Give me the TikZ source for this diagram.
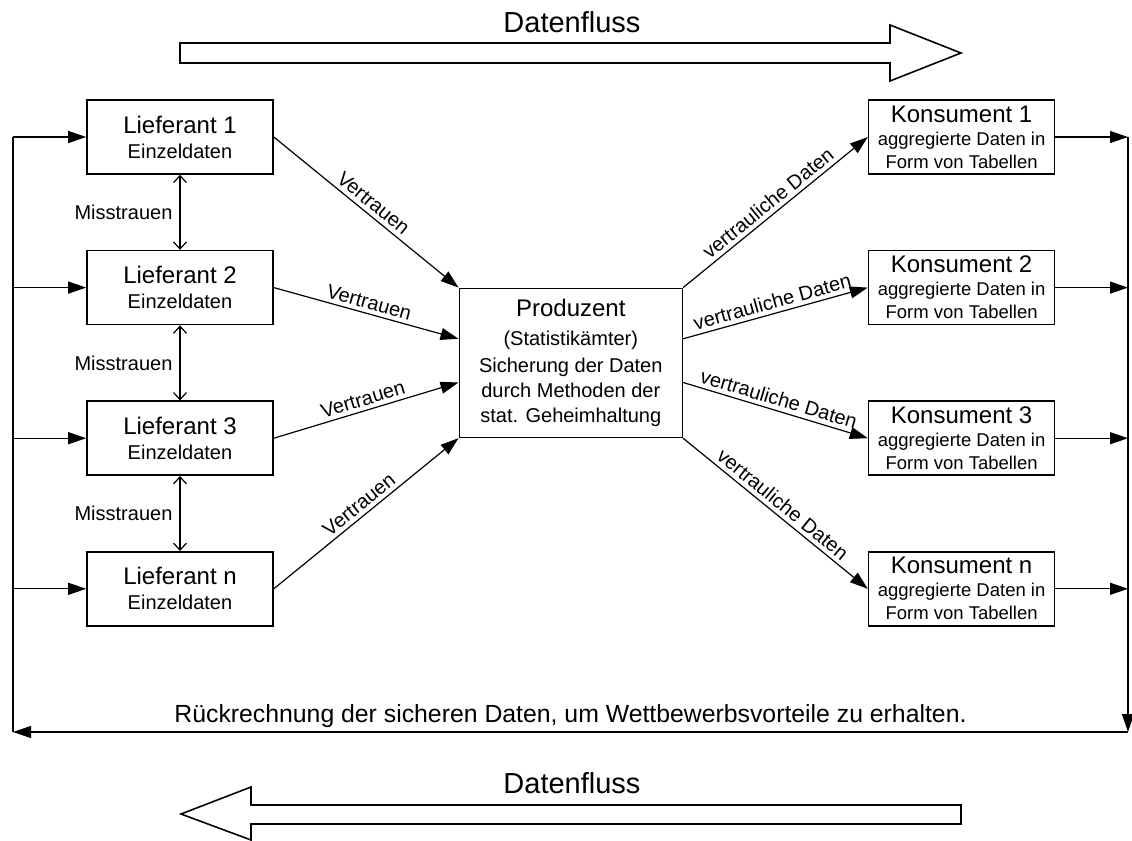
\documentclass[tikz,border=0pt]{standalone}
\usepackage{fontspec}
\setmainfont{Liberation Sans}
\usepackage{tikz}
\usetikzlibrary{arrows.meta, positioning, calc}
\newcommand{\boxtitle}[1]{{\fontsize{12}{12.5}\selectfont #1}}

\begin{document}
\begin{tikzpicture}[
  x=0.5pt, y=-0.5pt,
  node distance=37.5pt and 297pt,
  dbox/.style={rectangle, draw, line width=0.8pt, minimum width=93pt,
               minimum height=37pt, inner sep=0pt, align=center},
  lief/.style={dbox, font=\fontsize{10}{12.5}\selectfont},
  kons/.style={dbox, font=\fontsize{9.25}{11.5}\selectfont},
  prod/.style={dbox, minimum width=111.5pt, minimum height=74.5pt,
               font=\fontsize{10}{12.5}\selectfont},
  arr/.style={-{Triangle[length=9pt,width=6pt]}, line width=0.6pt},
  mis/.style={{Straight Barb[length=3.5pt,width=6.5pt]}-{Straight Barb[length=3.5pt,width=6.5pt]},
              line width=0.6pt},
  lbl/.style={midway, above, sloped, inner sep=2pt, font=\fontsize{10}{12}\selectfont},
  mlbl/.style={midway, left, inner sep=3.5pt, font=\fontsize{10}{12}\selectfont},
  bigarr/.style={draw, line width=0.8pt, line join=miter},
]
  \useasboundingbox (0,0) rectangle (1132,841);

  % Datenfluss oben
  \draw[bigarr] (180,43) -- (890,43) -- (890,25) -- (961,53) -- (890,81)
    -- (890,63) -- (180,63) -- cycle;
  \node[anchor=base, font=\fontsize{14.5}{14.5}\selectfont] (flowtop) at (572,32) {Datenfluss};

  % Lieferanten
  \node[lief] (lief1) at (180,137) {\boxtitle{Lieferant 1}\\Einzeldaten};
  \node[lief, below=of lief1] (lief2) {\boxtitle{Lieferant 2}\\Einzeldaten};
  \node[lief, below=of lief2] (lief3) {\boxtitle{Lieferant 3}\\Einzeldaten};
  \node[lief, below=of lief3] (liefn) {\boxtitle{Lieferant n}\\Einzeldaten};

  % Konsumenten
  \node[kons, right=of lief1] (kons1) {\boxtitle{Konsument 1}\\aggregierte Daten in\\Form von Tabellen};
  \node[kons, right=of lief2] (kons2) {\boxtitle{Konsument 2}\\aggregierte Daten in\\Form von Tabellen};
  \node[kons, right=of lief3] (kons3) {\boxtitle{Konsument 3}\\aggregierte Daten in\\Form von Tabellen};
  \node[kons, right=of liefn] (konsn) {\boxtitle{Konsument n}\\aggregierte Daten in\\Form von Tabellen};

  % Produzent
  \node[prod] (prod) at ($(lief2.east)!0.5!(kons3.west)$)
    {\boxtitle{Produzent}\\[2pt](Statistikämter)\\[1pt]Sicherung der Daten\\durch Methoden der\\stat. Geheimhaltung};
  \coordinate (pw1) at ($(prod.north west)!0.34!(prod.south west)$);
  \coordinate (pw2) at ($(prod.north west)!0.63!(prod.south west)$);
  \coordinate (pe1) at ($(prod.north east)!0.34!(prod.south east)$);
  \coordinate (pe2) at ($(prod.north east)!0.63!(prod.south east)$);

  \draw[arr] (lief1.east) -- (prod.north west) node[lbl] {Vertrauen};
  \draw[arr] (lief2.east) -- (pw1) node[lbl] {Vertrauen};
  \draw[arr] (lief3.east) -- (pw2) node[lbl] {Vertrauen};
  \draw[arr] (liefn.east) -- (prod.south west) node[lbl] {Vertrauen};

  \draw[arr] (prod.north east) -- (kons1.west) node[lbl] {vertrauliche Daten};
  \draw[arr] (pe1) -- (kons2.west) node[lbl] {vertrauliche Daten};
  \draw[arr] (pe2) -- (kons3.west) node[lbl] {vertrauliche Daten};
  \draw[arr] (prod.south east) -- (konsn.west) node[lbl] {vertrauliche Daten};

  % Misstrauen
  \draw[mis] (lief1.south) -- (lief2.north) node[mlbl] {Misstrauen};
  \draw[mis] (lief2.south) -- (lief3.north) node[mlbl] {Misstrauen};
  \draw[mis] (lief3.south) -- (liefn.north) node[mlbl] {Misstrauen};

  % Rueckrechnung
  \coordinate (rtop) at (1128,137);
  \coordinate (rbot) at (1128,732);
  \coordinate (lbot) at (13,732);
  \coordinate (ltop) at (13,137);
  \draw[arr] (kons1.east) -- (kons1.east -| rtop);
  \draw[arr] (kons2.east) -- (kons2.east -| rtop);
  \draw[arr] (kons3.east) -- (kons3.east -| rtop);
  \draw[arr] (konsn.east) -- (konsn.east -| rtop);
  \draw[arr] (rtop) -- (rbot);
  \draw[arr] (rbot) -- (lbot)
    node[midway, above, inner sep=2pt, font=\fontsize{12.4}{14}\selectfont]
    {Rückrechnung der sicheren Daten, um Wettbewerbsvorteile zu erhalten.};
  \draw[line width=0.6pt] (lbot) -- (ltop);
  \draw[arr] (lief1.west -| ltop) -- (lief1.west);
  \draw[arr] (lief2.west -| ltop) -- (lief2.west);
  \draw[arr] (lief3.west -| ltop) -- (lief3.west);
  \draw[arr] (liefn.west -| ltop) -- (liefn.west);

  % Datenfluss unten
  \draw[bigarr] (961,805) -- (251,805) -- (251,787) -- (181,814) -- (251,840)
    -- (251,824) -- (961,824) -- cycle;
  \node[anchor=base, font=\fontsize{14.5}{14.5}\selectfont] (flowbot) at (572,793) {Datenfluss};
\end{tikzpicture}
\end{document}
